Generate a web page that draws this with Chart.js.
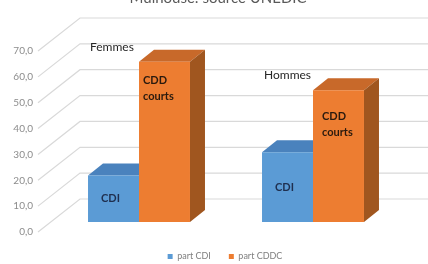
<!DOCTYPE html>
<html><head><meta charset="utf-8">
<script src="https://cdn.jsdelivr.net/npm/chart.js@4"></script>
<style>html,body{margin:0;padding:0;background:#fff}#wrap{width:428px;height:264px;position:relative}</style>
</head><body><div id="wrap"><canvas id="c"></canvas></div>
<script>
const chartTitle = "Mulhouse: source UNEDIC";
const categories = ["Femmes", "Hommes"];
const seriesNames = ["part CDI", "part CDDC"];
const partCDI = [18, 27];
const partCDDC = [62, 51];
const innerLabels = ["CDI", "CDD courts"];
const yMin = 0, yMax = 70, yStep = 10;

const FONT = "Lato, 'Open Sans', sans-serif";
const DEPTH = {dx: 15, dy: -12};

const threeD = {
  id: 'threeD',
  afterLayout(chart) {
    const lg = chart.legend;
    if (lg) { lg.top += 12; lg.bottom += 12; lg.left += 25; lg.right += 25; }
  },
  beforeDatasetsDraw(chart) {
    const ctx = chart.ctx, ys = chart.scales.y, ca = chart.chartArea;
    const backX = ca.left + 28, backDy = -23, frontX = ca.left - 14, frontDy = 10;
    ctx.save();
    ctx.strokeStyle = '#d9d9d9';
    ctx.lineWidth = 1.2;
    ys.ticks.forEach(t => {
      const y = ys.getPixelForValue(t.value);
      ctx.beginPath();
      ctx.moveTo(frontX, y + frontDy);
      ctx.lineTo(backX, y + backDy);
      ctx.lineTo(chart.width, y + backDy);
      ctx.stroke();
    });
    const faceCols = [['#4a82bd', '#3b6fa6'], ['#c8692a', '#a0561f']];
    chart.data.datasets.forEach((ds, di) => {
      const meta = chart.getDatasetMeta(di);
      meta.data.forEach(el => {
        const l = el.x - el.width / 2, r = el.x + el.width / 2;
        ctx.fillStyle = faceCols[di][0];
        ctx.beginPath();
        ctx.moveTo(l, el.y); ctx.lineTo(r, el.y);
        ctx.lineTo(r + DEPTH.dx, el.y + DEPTH.dy); ctx.lineTo(l + DEPTH.dx, el.y + DEPTH.dy);
        ctx.closePath(); ctx.fill();
        ctx.fillStyle = faceCols[di][1];
        ctx.beginPath();
        ctx.moveTo(r, el.y); ctx.lineTo(r + DEPTH.dx, el.y + DEPTH.dy);
        ctx.lineTo(r + DEPTH.dx, el.base + DEPTH.dy); ctx.lineTo(r, el.base);
        ctx.closePath(); ctx.fill();
      });
    });
    ctx.restore();
  },
  afterDatasetsDraw(chart) {
    const ctx = chart.ctx;
    const m0 = chart.getDatasetMeta(0), m1 = chart.getDatasetMeta(1);
    ctx.save();
    ctx.textBaseline = 'middle';
    categories.forEach((cat, i) => {
      const b0 = m0.data[i], b1 = m1.data[i];
      ctx.font = "12px " + FONT;
      ctx.fillStyle = '#262626';
      ctx.textAlign = 'left';
      ctx.fillText(cat, b0.x - b0.width / 2 + 2, b1.y - 15);
      ctx.font = "bold 11px " + FONT;
      ctx.fillStyle = '#1f2f4f';
      ctx.textAlign = 'center';
      ctx.fillText(innerLabels[0], b0.x - 3, (b0.y + b0.base) / 2);
      ctx.fillStyle = '#2a1a0e';
      ctx.textAlign = 'left';
      const words = innerLabels[1].split(' ');
      const top = i === 0 ? b1.y + 19 : b1.y + 26;
      words.forEach((w, k) => ctx.fillText(w, b1.x - b1.width / 2 + (i === 0 ? 4 : 9), top + k * 16));
    });
    ctx.font = "15px " + FONT;
    ctx.fillStyle = '#595959';
    ctx.textAlign = 'center';
    ctx.textBaseline = 'alphabetic';
    ctx.fillText(chartTitle, 218, 3);
    ctx.restore();
  }
};

new Chart(document.getElementById('c'), {
  type: 'bar',
  data: {
    labels: categories,
    datasets: [
      {label: seriesNames[0], data: partCDI, backgroundColor: '#5b9bd5'},
      {label: seriesNames[1], data: partCDDC, backgroundColor: '#ed7d31'}
    ]
  },
  options: {
    responsive: true,
    maintainAspectRatio: false,
    animation: false,
    layout: {padding: {top: 41, right: 28, left: 0, bottom: 5}},
    datasets: {bar: {categoryPercentage: 0.586, barPercentage: 1}},
    scales: {
      x: {display: false},
      y: {
        min: yMin, max: yMax,
        grid: {display: false, drawTicks: false},
        border: {display: false},
        afterFit: s => { s.width = 52; },
        ticks: {
          stepSize: yStep, padding: 19, labelOffset: 10,
          color: '#8c8c8c', font: {family: FONT, size: 10},
          callback: v => v.toFixed(1).replace('.', ',')
        }
      }
    },
    plugins: {
      title: {display: false},
      tooltip: {enabled: false},
      legend: {
        position: 'bottom',
        labels: {boxWidth: 5, boxHeight: 5, padding: 18, color: '#7f7f7f', font: {family: FONT, size: 9}}
      }
    }
  },
  plugins: [threeD]
});
</script></body></html>
